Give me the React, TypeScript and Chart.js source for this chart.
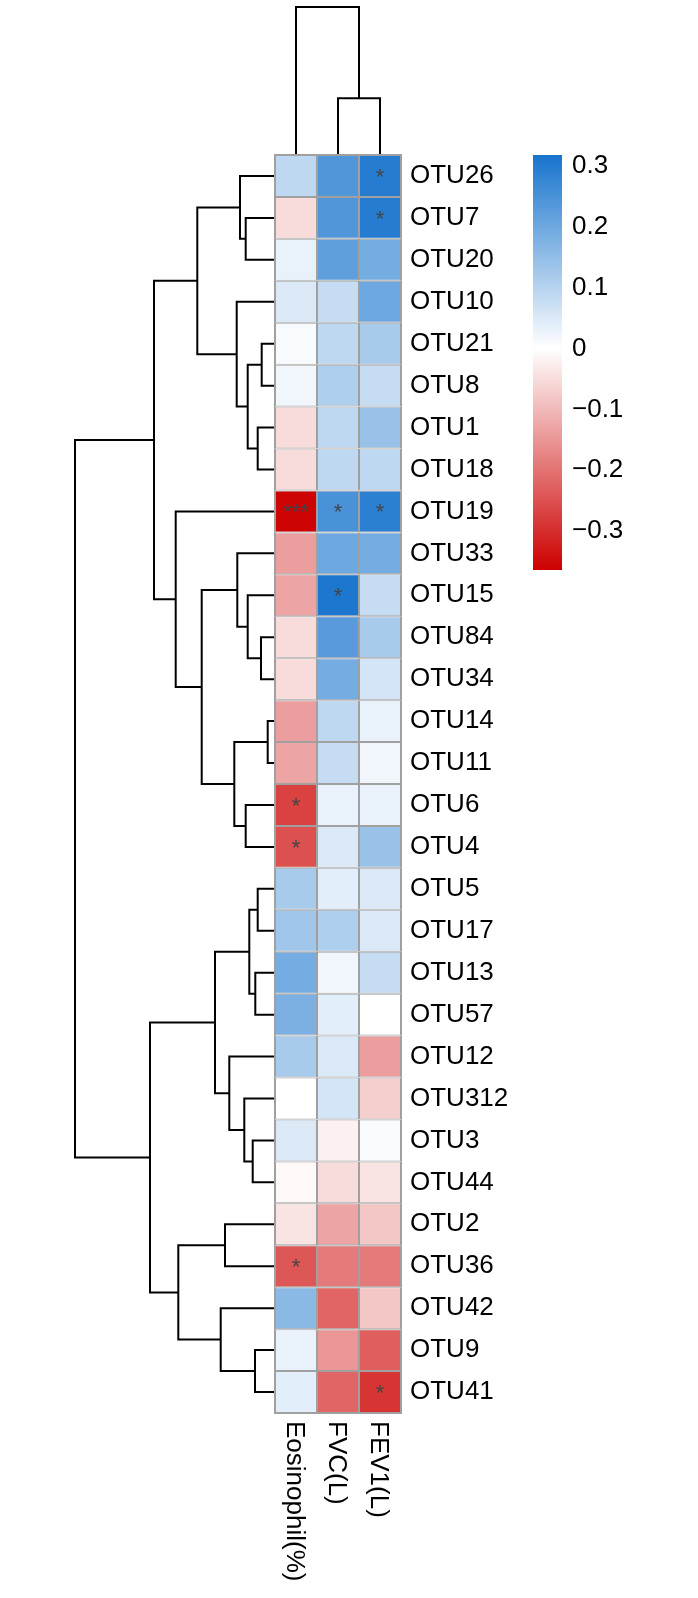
import React, { useEffect, useRef } from 'react';
import { Chart, registerables } from 'chart.js';

Chart.register(...registerables);

// ---------- data ----------
const rowLabels = ['OTU26', 'OTU7', 'OTU20', 'OTU10', 'OTU21', 'OTU8', 'OTU1', 'OTU18', 'OTU19', 'OTU33', 'OTU15', 'OTU84', 'OTU34', 'OTU14', 'OTU11', 'OTU6', 'OTU4', 'OTU5', 'OTU17', 'OTU13', 'OTU57', 'OTU12', 'OTU312', 'OTU3', 'OTU44', 'OTU2', 'OTU36', 'OTU42', 'OTU9', 'OTU41'];
const colLabels = ['Eosinophil(%)', 'FVC(L)', 'FEV1(L)'];

const eosinophil = [0.09, -0.05, 0.03, 0.05, 0.01, 0.02, -0.05, -0.05, -0.36, -0.14, -0.13, -0.05, -0.05, -0.14, -0.13, -0.27, -0.25, 0.12, 0.13, 0.19, 0.18, 0.12, 0.0, 0.05, -0.01, -0.04, -0.24, 0.16, 0.03, 0.04];
const fvc = [0.24, 0.24, 0.22, 0.08, 0.09, 0.11, 0.09, 0.09, 0.25, 0.2, 0.31, 0.23, 0.19, 0.09, 0.08, 0.03, 0.05, 0.04, 0.11, 0.02, 0.04, 0.05, 0.06, -0.02, -0.05, -0.13, -0.19, -0.22, -0.15, -0.22];
const fev1 = [0.3, 0.3, 0.19, 0.2, 0.12, 0.08, 0.14, 0.09, 0.29, 0.19, 0.08, 0.12, 0.06, 0.03, 0.02, 0.03, 0.14, 0.05, 0.05, 0.08, 0.0, -0.14, -0.07, 0.01, -0.04, -0.08, -0.19, -0.08, -0.23, -0.29];

const eosinophilStars: [string, string][] = [['OTU19', '***'], ['OTU6', '*'], ['OTU4', '*'], ['OTU36', '*']];
const fvcStars: [string, string][] = [['OTU19', '*'], ['OTU15', '*']];
const fev1Stars: [string, string][] = [['OTU26', '*'], ['OTU7', '*'], ['OTU19', '*'], ['OTU41', '*']];

// hclust-style merges: negative = leaf (display order, 1-based), positive = earlier merge; third = height
const rowMerges: [number, number, number][] = [
  [-14, -15, 0.0365], [-5, -6, 0.0665], [-12, -13, 0.07], [-7, -8, 0.0865],
  [-18, -19, 0.0865], [-20, -21, 0.0985], [-29, -30, 0.1], [-24, -25, 0.1115],
  [5, 6, 0.1285], [2, 4, 0.1365], [-11, 3, 0.1365], [-2, -3, 0.1465],
  [-16, -17, 0.1465], [-23, 8, 0.1535], [-1, 12, 0.175], [-10, 11, 0.1885],
  [-4, 10, 0.1915], [1, 13, 0.2035], [-22, 14, 0.2285], [-26, -27, 0.25],
  [-28, 7, 0.2715], [9, 19, 0.3], [16, 18, 0.3665], [15, 17, 0.3885],
  [20, 21, 0.4835], [-9, 23, 0.4965], [24, 26, 0.605], [22, 25, 0.625],
  [27, 28, 1.0],
];
const colMerges: [number, number, number][] = [[-2, -3, 0.383], [-1, 1, 1.0]];

const legendTicks = [-0.3, -0.2, -0.1, 0, 0.1, 0.2, 0.3];
const legendMin = -0.364;
const legendMax = 0.318;

// ---------- helpers ----------
const W = 698;
const H = 1598;
const FONT = "'Liberation Sans', Arial, Helvetica, sans-serif";
const RED = [205, 0, 0];
const BLUE = [24, 116, 205];
const GRID = '#a0a0a0';

function colorFor(v: number): string {
  const neg = v < 0;
  const t = Math.max(0, Math.min(1, neg ? v / legendMin : v / legendMax));
  const c = neg ? RED : BLUE;
  const r = Math.round(255 + (c[0] - 255) * t);
  const g = Math.round(255 + (c[1] - 255) * t);
  const b = Math.round(255 + (c[2] - 255) * t);
  return `rgb(${r},${g},${b})`;
}

function dendroSegments(merges: [number, number, number][]) {
  const pos: number[] = [];
  const hts: number[] = [];
  const get = (k: number) => (k < 0 ? { p: -k - 0.5, h: 0 } : { p: pos[k - 1], h: hts[k - 1] });
  const segs: { p: number; h: number }[][] = [];
  merges.forEach(([a, b, h], i) => {
    const A = get(a);
    const B = get(b);
    segs.push([
      { p: A.p, h: A.h },
      { p: A.p, h },
      { p: B.p, h },
      { p: B.p, h: B.h },
    ]);
    pos[i] = (A.p + B.p) / 2;
    hts[i] = h;
  });
  return segs;
}

const lineStyle = {
  showLine: true,
  pointRadius: 0,
  borderColor: '#000',
  borderWidth: 2,
  borderJoinStyle: 'miter' as const,
  borderCapStyle: 'butt' as const,
  clip: false as const,
  tension: 0,
};

function rowDendroConfig(): any {
  const segs = dendroSegments(rowMerges);
  return {
    type: 'scatter',
    data: {
      datasets: segs.map((s) => ({ ...lineStyle, data: s.map((q) => ({ x: q.h, y: q.p })) })),
    },
    options: {
      responsive: false,
      animation: false,
      devicePixelRatio: 1,
      layout: { padding: { left: 75, right: W - 275, top: 155, bottom: H - 1413 } },
      plugins: { legend: { display: false }, tooltip: { enabled: false } },
      events: [],
      scales: {
        x: { type: 'linear', min: 0, max: 1, reverse: true, display: false },
        y: { type: 'linear', min: 0, max: rowLabels.length, reverse: true, display: false },
      },
    },
  };
}

function colDendroConfig(): any {
  const segs = dendroSegments(colMerges);
  return {
    type: 'scatter',
    data: {
      datasets: segs.map((s) => ({ ...lineStyle, data: s.map((q) => ({ x: q.p, y: q.h })) })),
    },
    options: {
      responsive: false,
      animation: false,
      devicePixelRatio: 1,
      layout: { padding: { left: 275, right: W - 401, top: 7, bottom: H - 155 } },
      plugins: { legend: { display: false }, tooltip: { enabled: false } },
      events: [],
      scales: {
        x: { type: 'linear', min: 0, max: colLabels.length, display: false },
        y: { type: 'linear', min: 0, max: 1, display: false },
      },
    },
  };
}

const heatExtras = {
  id: 'heatExtras',
  afterDatasetsDraw(chart: any) {
    const { ctx, chartArea } = chart;
    const xs = chart.scales.x;
    const ys = chart.scales.y;
    ctx.save();
    // outer frame
    ctx.strokeStyle = GRID;
    ctx.lineWidth = 1;
    ctx.strokeRect(chartArea.left - 0.5, chartArea.top - 0.5, chartArea.right - chartArea.left + 1, chartArea.bottom - chartArea.top + 1);
    // significance stars
    const starSets = [eosinophilStars, fvcStars, fev1Stars];
    ctx.fillStyle = '#444444';
    ctx.font = `22px ${FONT}`;
    ctx.textAlign = 'center';
    ctx.textBaseline = 'alphabetic';
    starSets.forEach((set, c) => {
      set.forEach(([row, txt]) => {
        const r = rowLabels.indexOf(row);
        const x = xs.getPixelForValue(c + 0.5);
        const y = ys.getPixelForValue(r);
        ctx.fillText(txt, x, y + 8);
      });
    });
    // column labels, rotated clockwise
    ctx.fillStyle = '#000';
    ctx.font = `26px ${FONT}`;
    ctx.textAlign = 'left';
    colLabels.forEach((lab, c) => {
      const x = xs.getPixelForValue(c + 0.5);
      ctx.save();
      ctx.translate(x - 9.3, chartArea.bottom + 8);
      ctx.rotate(Math.PI / 2);
      ctx.fillText(lab, 0, 0);
      ctx.restore();
    });
    ctx.restore();
  },
};

function heatmapConfig(): any {
  const cols = [eosinophil, fvc, fev1];
  return {
    type: 'bar',
    data: {
      labels: rowLabels,
      datasets: cols.map((vals, c) => ({
        label: colLabels[c],
        data: vals.map(() => [c, c + 1]),
        backgroundColor: (ctx: any) => colorFor(vals[ctx.dataIndex] ?? 0),
        borderColor: GRID,
        borderWidth: 1,
        borderSkipped: false,
        inflateAmount: 0,
        grouped: false,
        barPercentage: 1,
        categoryPercentage: 1,
      })),
    },
    options: {
      indexAxis: 'y',
      responsive: false,
      animation: false,
      devicePixelRatio: 1,
      layout: { padding: { left: 275, right: W - 401 - 120, top: 155, bottom: H - 1413 } },
      plugins: { legend: { display: false }, tooltip: { enabled: false } },
      events: [],
      scales: {
        x: { type: 'linear', min: 0, max: colLabels.length, display: false },
        y: {
          type: 'category',
          position: 'right',
          offset: true,
          grid: { display: false, drawTicks: false },
          border: { display: false },
          ticks: { autoSkip: false, padding: 9, color: '#000', font: { family: FONT, size: 26 } },
          afterFit: (scale: any) => {
            scale.width = 120;
          },
        },
      },
    },
    plugins: [heatExtras],
  };
}

function legendConfig(): any {
  return {
    type: 'bar',
    data: {
      labels: ['scale'],
      datasets: [
        {
          data: [[legendMin, legendMax]],
          backgroundColor: (ctx: any) => {
            const chart = ctx.chart;
            const ys = chart.scales.y;
            if (!chart.chartArea || !ys) return colorFor(0);
            const y0 = ys.getPixelForValue(legendMax);
            const y1 = ys.getPixelForValue(legendMin);
            const g = chart.ctx.createLinearGradient(0, y0, 0, y1);
            const N = 60;
            for (let k = 0; k <= N; k++) {
              const v = legendMax - (k / N) * (legendMax - legendMin);
              g.addColorStop(k / N, colorFor(v));
            }
            return g;
          },
          borderWidth: 0,
          inflateAmount: 0,
          barPercentage: 1,
          categoryPercentage: 1,
        },
      ],
    },
    options: {
      responsive: false,
      animation: false,
      devicePixelRatio: 1,
      layout: { padding: { left: 533, right: W - 562 - 110, top: 155, bottom: H - 570 } },
      plugins: { legend: { display: false }, tooltip: { enabled: false } },
      events: [],
      scales: {
        x: { type: 'category', display: false, offset: true },
        y: {
          type: 'linear',
          position: 'right',
          min: legendMin,
          max: legendMax,
          grid: { display: false, drawTicks: false },
          border: { display: false },
          afterBuildTicks: (scale: any) => {
            scale.ticks = legendTicks.map((v) => ({ value: v }));
          },
          ticks: {
            padding: 10,
            color: '#000',
            font: { family: FONT, size: 26 },
            callback: (v: any) => {
              const n = Number(v);
              if (Math.abs(n) < 1e-9) return '0';
              const s = Math.abs(n).toFixed(1);
              return n < 0 ? '\u2212' + s : s;
            },
          },
          afterFit: (scale: any) => {
            scale.width = 110;
          },
        },
      },
    },
  };
}

export default function App() {
  const r1 = useRef<HTMLCanvasElement>(null);
  const r2 = useRef<HTMLCanvasElement>(null);
  const r3 = useRef<HTMLCanvasElement>(null);
  const r4 = useRef<HTMLCanvasElement>(null);

  useEffect(() => {
    const charts = [
      new Chart(r1.current as HTMLCanvasElement, rowDendroConfig()),
      new Chart(r2.current as HTMLCanvasElement, colDendroConfig()),
      new Chart(r3.current as HTMLCanvasElement, heatmapConfig()),
      new Chart(r4.current as HTMLCanvasElement, legendConfig()),
    ];
    return () => charts.forEach((c) => c.destroy());
  }, []);

  const cs: React.CSSProperties = { position: 'absolute', left: 0, top: 0, width: W, height: H };
  return (
    <div style={{ position: 'absolute', left: 0, top: 0, width: W, height: H, background: '#fff', overflow: 'hidden' }}>
      <canvas ref={r1} width={W} height={H} style={cs} />
      <canvas ref={r2} width={W} height={H} style={cs} />
      <canvas ref={r3} width={W} height={H} style={cs} />
      <canvas ref={r4} width={W} height={H} style={cs} />
    </div>
  );
}
